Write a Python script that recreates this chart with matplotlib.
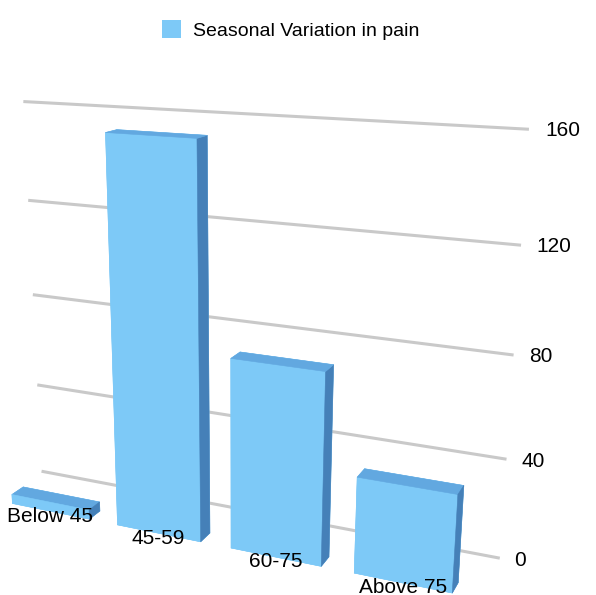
import matplotlib.pyplot as plt
import numpy as np
from matplotlib import font_manager
from matplotlib.patches import Patch
from mpl_toolkits.mplot3d import proj3d

# Datos del gráfico
categories = ["Below 45", "45-59", "60-75", "Above 75"]
values = [4, 155, 76, 38]
ticks = [0, 40, 80, 120, 160]
series_name = "Seasonal Variation in pain"


def pick_family():
    # fuente estrecha tipo Helvetica si está instalada
    for fam in ["Liberation Sans Narrow", "Liberation Sans"]:
        try:
            font_manager.findfont(font_manager.FontProperties(family=fam),
                                  fallback_to_default=False)
            return fam
        except ValueError:
            pass
    return "DejaVu Sans"


plt.rcParams["font.family"] = pick_family()

front_c = "#7dc9f7"
top_c = "#62a8e0"
side_c = "#4580b8"
grid_c = "#c9c9c9"

fig = plt.figure(figsize=(5.96, 5.95), dpi=100)
ax = fig.add_axes([-0.147, -0.085, 1.06, 1.02], projection="3d")
ax.set_proj_type("persp", focal_length=0.38)
ax.computed_zorder = False

x = np.arange(len(categories))
bar_w = 0.74
bar_d = 0.25
x_lo, x_hi = -0.5, 3.55

# Líneas de la cuadrícula en el plano del fondo (y = 1)
for t in ticks:
    ax.plot([x_lo, x_hi], [1, 1], [t, t], color=grid_c, lw=2.2, zorder=1,
            clip_on=False)

# Barras: inferior, superior, frente, fondo, izquierda, derecha
face_cols = []
for _ in categories:
    face_cols += [front_c, top_c, front_c, front_c, front_c, side_c]

bars = ax.bar3d(x - bar_w / 2, np.zeros(len(x)), np.zeros(len(x)),
                bar_w, bar_d, values, color=face_cols, shade=False,
                edgecolor=face_cols, linewidth=0.4, zorder=2)
bars.set_clip_on(False)

ax.set_xlim(x_lo, x_hi)
ax.set_ylim(0, 1)
ax.set_zlim(0, 160)
ax.set_box_aspect((3.0, 0.5, 2.4), zoom=1.1)
ax.view_init(elev=17, azim=-66)
ax.set_axis_off()


def label_at(x3, y3, z3, s, **kw):
    # proyecta un punto 3D y coloca el texto en 2D
    fig.canvas.draw()
    xs, ys, _ = proj3d.proj_transform(x3, y3, z3, ax.get_proj())
    ax.text2D(xs, ys, s, transform=ax.transData, fontsize=15, **kw)


for t in ticks:
    label_at(x_hi + 0.12, 1, t, str(t), ha="left", va="center")
for xi, lab in zip(x, categories):
    label_at(xi, 0, 2, lab, ha="center", va="top")

fig.legend(handles=[Patch(facecolor=front_c)], labels=[series_name],
           loc="upper center", bbox_to_anchor=(0.487, 0.995), frameon=False,
           fontsize=14, handlelength=1.0, handleheight=1.0, handletextpad=0.6)

fig.savefig("out.png", dpi=100)
